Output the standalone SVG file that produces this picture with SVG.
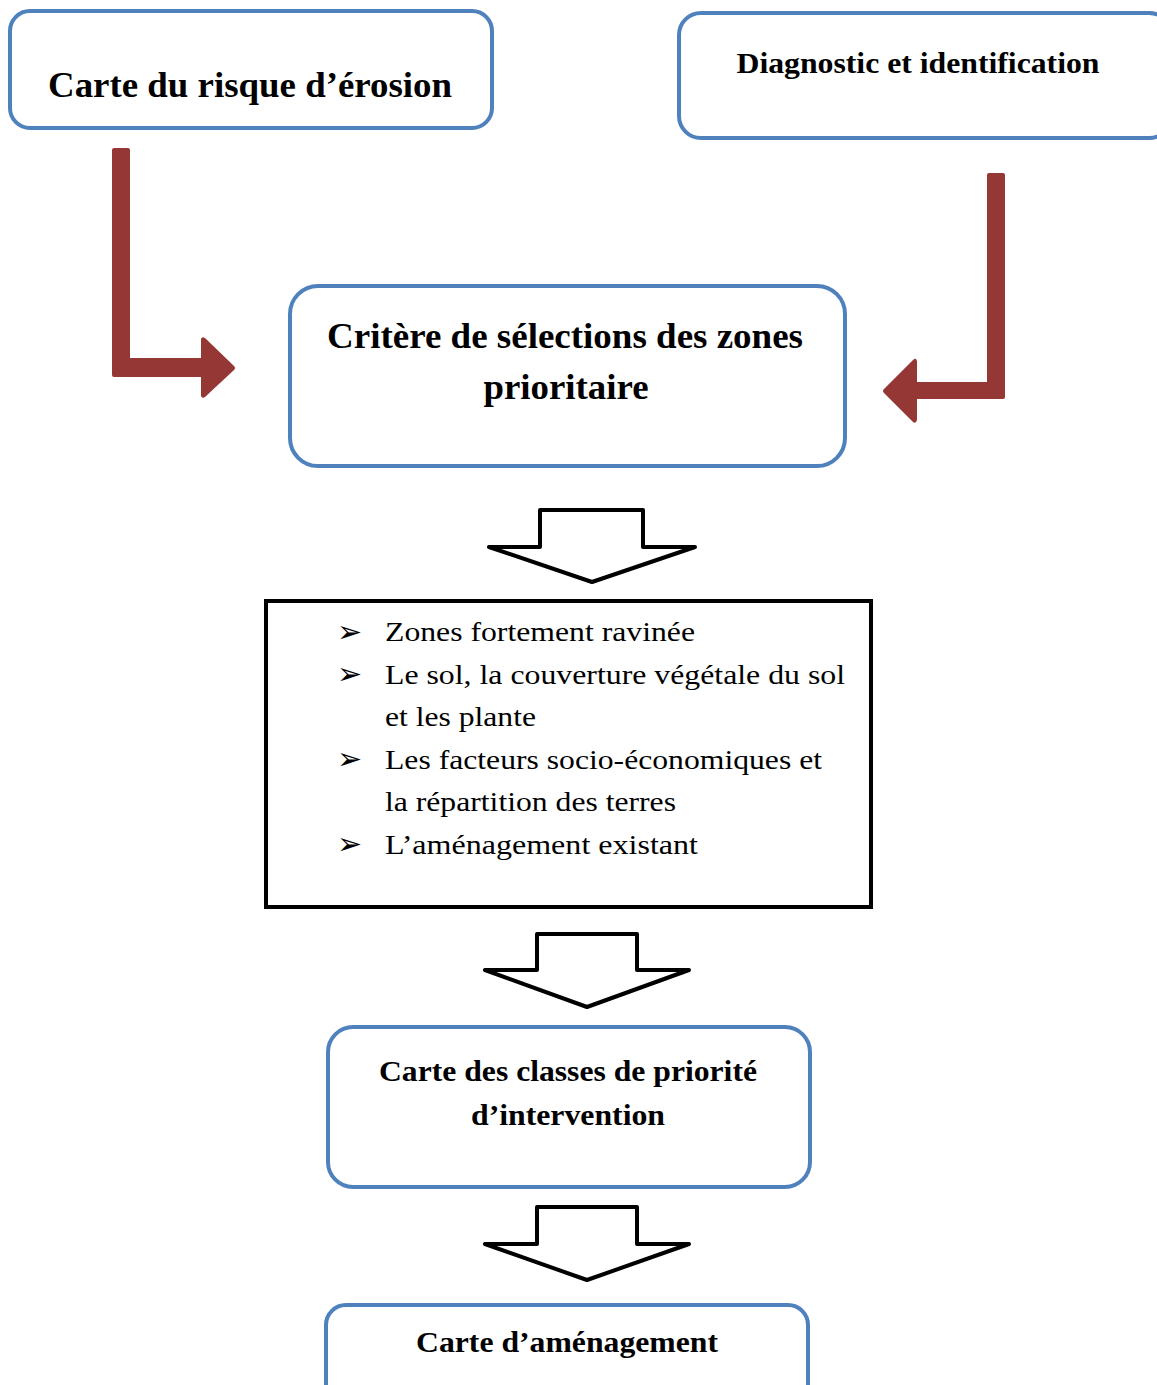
<svg xmlns="http://www.w3.org/2000/svg" width="1157" height="1385" viewBox="0 0 1157 1385">
<style>
.box{fill:#fff;stroke:#4F81BD;stroke-width:4}
.t{font-family:"Liberation Serif","Times New Roman",serif;font-weight:bold;text-anchor:middle;fill:#000}
.li{font-family:"Liberation Serif","Times New Roman",serif;font-size:28px;fill:#000}
.bul{font-family:"DejaVu Sans",sans-serif;font-size:30px;fill:#000}
.red{fill:#953735}
.hollow{fill:#fff;stroke:#000;stroke-width:4;stroke-linejoin:round}
</style>
<rect width="1157" height="1385" fill="#fff"/>
<g id="node-carte-risque">
<rect class="box" x="10" y="11" width="482" height="117" rx="20"/>
<text class="t" x="250" y="97" font-size="36" textLength="404" lengthAdjust="spacingAndGlyphs">Carte du risque d’érosion</text>
</g>
<g id="node-diagnostic">
<rect class="box" x="679" y="13" width="492" height="125" rx="22"/>
<text class="t" x="918" y="73" font-size="30" textLength="363" lengthAdjust="spacingAndGlyphs">Diagnostic et identification</text>
</g>
<g id="node-critere">
<rect class="box" x="290" y="286" width="555" height="180" rx="28"/>
<text class="t" x="565" y="348" font-size="36" textLength="476" lengthAdjust="spacingAndGlyphs">Critère de sélections des zones</text>
<text class="t" x="566" y="399" font-size="36" textLength="165" lengthAdjust="spacingAndGlyphs">prioritaire</text>
</g>
<g id="node-liste">
<rect x="266" y="601" width="605" height="306" fill="#fff" stroke="#000" stroke-width="4"/>
<text class="bul" x="337" y="642">➢</text>
<text class="bul" x="337" y="684">➢</text>
<text class="bul" x="337" y="769">➢</text>
<text class="bul" x="337" y="854">➢</text>
<text class="li" x="385" y="641" textLength="310" lengthAdjust="spacingAndGlyphs">Zones fortement ravinée</text>
<text class="li" x="385" y="684" textLength="460" lengthAdjust="spacingAndGlyphs">Le sol, la couverture végétale du sol</text>
<text class="li" x="385" y="726" textLength="151" lengthAdjust="spacingAndGlyphs">et les plante</text>
<text class="li" x="385" y="769" textLength="437" lengthAdjust="spacingAndGlyphs">Les facteurs socio-économiques et</text>
<text class="li" x="385" y="811" textLength="291" lengthAdjust="spacingAndGlyphs">la répartition des terres</text>
<text class="li" x="385" y="854" textLength="313" lengthAdjust="spacingAndGlyphs">L’aménagement existant</text>
</g>
<g id="node-classes">
<rect class="box" x="328" y="1027" width="482" height="160" rx="25"/>
<text class="t" x="568" y="1081" font-size="30" textLength="378" lengthAdjust="spacingAndGlyphs">Carte des classes de priorité</text>
<text class="t" x="568" y="1125" font-size="30" textLength="194" lengthAdjust="spacingAndGlyphs">d’intervention</text>
</g>
<g id="node-amenagement">
<rect class="box" x="326" y="1305" width="482" height="100" rx="20"/>
<text class="t" x="567" y="1352" font-size="30" textLength="302" lengthAdjust="spacingAndGlyphs">Carte d’aménagement</text>
</g>
<g id="connectors">
<path class="red" d="M112,150 Q112,148 114,148 L128,148 Q130,148 130,150 L130,358 L201,358 L201,339 Q202,336 205,338 L234,366 Q236,368 234,370 L205,397 Q202,399 201,396 L201,377 L114,377 Q112,377 112,375 Z"/>
<path class="red" d="M987,175 Q987,173 989,173 L1003,173 Q1005,173 1005,175 L1005,397 Q1005,399 1003,399 L917,399 L917,420 Q916,424 913,422 L884,393 Q882,391 884,389 L913,360 Q916,357 917,361 L917,382 L987,382 Z"/>
<polygon class="hollow" points="540,510 643,510 643,547 695,547 592,582 489,547 540,547"/>
<polygon class="hollow" points="537,934 637,934 637,970 689,970 587,1007 485,970 537,970"/>
<polygon class="hollow" points="537,1207 637,1207 637,1244 689,1244 587,1280 485,1244 537,1244"/>
</g>
</svg>
